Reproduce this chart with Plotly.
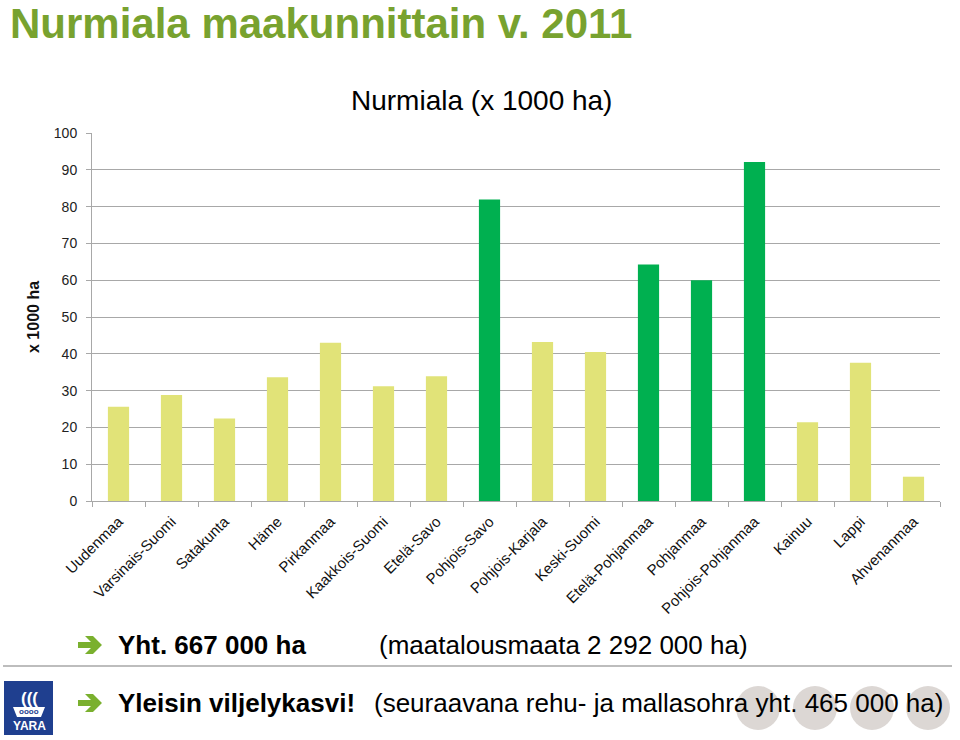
import plotly.graph_objects as go

# Nurmiala maakunnittain 2011 (x 1000 ha), luettu kuvasta
maakunnat = ['Uudenmaa', 'Varsinais-Suomi', 'Satakunta', 'Häme', 'Pirkanmaa',
             'Kaakkois-Suomi', 'Etelä-Savo', 'Pohjois-Savo', 'Pohjois-Karjala',
             'Keski-Suomi', 'Etelä-Pohjanmaa', 'Pohjanmaa', 'Pohjois-Pohjanmaa',
             'Kainuu', 'Lappi', 'Ahvenanmaa']
nurmiala = [25.6, 28.8, 22.4, 33.6, 43.0, 31.2, 33.9, 81.9, 43.2, 40.5,
            64.3, 60.0, 92.1, 21.4, 37.6, 6.6]
korostetut = ['Pohjois-Savo', 'Etelä-Pohjanmaa', 'Pohjanmaa', 'Pohjois-Pohjanmaa']
y_ticks = [0, 10, 20, 30, 40, 50, 60, 70, 80, 90, 100]

GREEN = '#00B050'
YELLOW = '#E1E378'
TITLE_GREEN = '#78A22F'
ARROW_GREEN = '#7AB02E'
FONT = 'Liberation Sans, Arial'

colors = [GREEN if m in korostetut else YELLOW for m in maakunnat]

fig = go.Figure(go.Bar(x=maakunnat, y=nurmiala, marker_color=colors,
                       marker_line_width=0, width=0.4))

fig.update_layout(
    width=960, height=740,
    margin=dict(l=92, r=20, t=133, b=239),
    plot_bgcolor='white', paper_bgcolor='white',
    showlegend=False,
    font=dict(family=FONT, color='#222'),
)
fig.update_yaxes(range=[0, 100], tickvals=y_ticks, showgrid=True, automargin=False,
                 gridcolor='#A8A8A8', gridwidth=1,
                 showline=True, linecolor='#A8A8A8', ticks='outside',
                 tickcolor='#A8A8A8', ticklen=5, ticklabelstandoff=6,
                 tickfont=dict(size=14, color='#222'), zeroline=False)
fig.update_xaxes(showline=True, linecolor='#A8A8A8', ticks='outside', automargin=False,
                 tickson='boundaries', tickcolor='#A8A8A8', ticklen=5,
                 ticklabelstandoff=5,
                 tickangle=-45, tickfont=dict(size=15, color='#111'))


def py(yp):
    return (501 - yp) / 368


def px(xp):
    return (xp - 92) / 848


def note(text, x, y, size, color='#000', anchor='left', family=FONT, angle=0):
    fig.add_annotation(text=text, xref='paper', yref='paper', x=px(x), y=py(y),
                       xanchor=anchor, yanchor='middle', showarrow=False, textangle=angle,
                       font=dict(family=family, size=size, color=color))


# otsikot
note('<b>Nurmiala maakunnittain v. 2011</b>', 8, 24, 42, TITLE_GREEN)
note('Nurmiala (x 1000 ha)', 481, 100, 28, anchor='center')
note('<b>x 1000 ha</b>', 33, 317, 16, '#111', anchor='center', angle=-90)

# nuolet
for c in (645, 703):
    pts = [(78, c - 3), (91, c - 3), (85, c - 9), (93, c - 9), (102, c),
           (93, c + 9), (85, c + 9), (91, c + 3), (78, c + 3)]
    path = 'M ' + ' L '.join(f'{px(a):.5f},{py(b):.5f}' for a, b in pts) + ' Z'
    fig.add_shape(type='path', xref='paper', yref='paper', path=path,
                  fillcolor=ARROW_GREEN, line_width=0)

fig.add_shape(type='line', xref='paper', yref='paper', x0=px(3), x1=px(952),
              y0=py(666), y1=py(666), line=dict(color='#BDBDBD', width=2))

# harmaat ympyrät
for cx in (758, 815, 872, 928):
    fig.add_shape(type='circle', xref='paper', yref='paper',
                  x0=px(cx - 22), x1=px(cx + 22), y0=py(708 - 22), y1=py(708 + 22),
                  fillcolor='#DCD7D4', line_width=0, layer='below')

# alatekstit
note('<b>Yht. 667 000 ha</b>', 116, 645, 26)
note('(maatalousmaata 2 292 000 ha)', 377, 645, 26)
note('<b>Yleisin viljelykasvi!</b>', 116, 703, 26)
note('(seuraavana rehu- ja mallasohra yht. 465 000 ha)', 372, 703, 26)

# YARA-logo
fig.add_shape(type='rect', xref='paper', yref='paper', x0=px(4), x1=px(53),
              y0=py(735), y1=py(681), fillcolor='#1F3F8F', line_width=0)
hull = [(13, 707), (45, 707), (41, 717), (17, 717)]
fig.add_shape(type='path', xref='paper', yref='paper',
              path='M ' + ' L '.join(f'{px(a):.5f},{py(b):.5f}' for a, b in hull) + ' Z',
              fillcolor='white', line_width=0)
note('<b>(((</b>', 29, 698, 17, 'white', anchor='center')
note('<b>oooo</b>', 29, 711, 8, '#1F3F8F', anchor='center')
note('<b>YARA</b>', 29, 726, 12, 'white', anchor='center')

# sivun oletusmarginaali pois, jotta kuva alkaa vasemmasta yläkulmasta
fig.write_html('out.html', config={'displayModeBar': False},
               post_script="document.body.style.margin='0';")
